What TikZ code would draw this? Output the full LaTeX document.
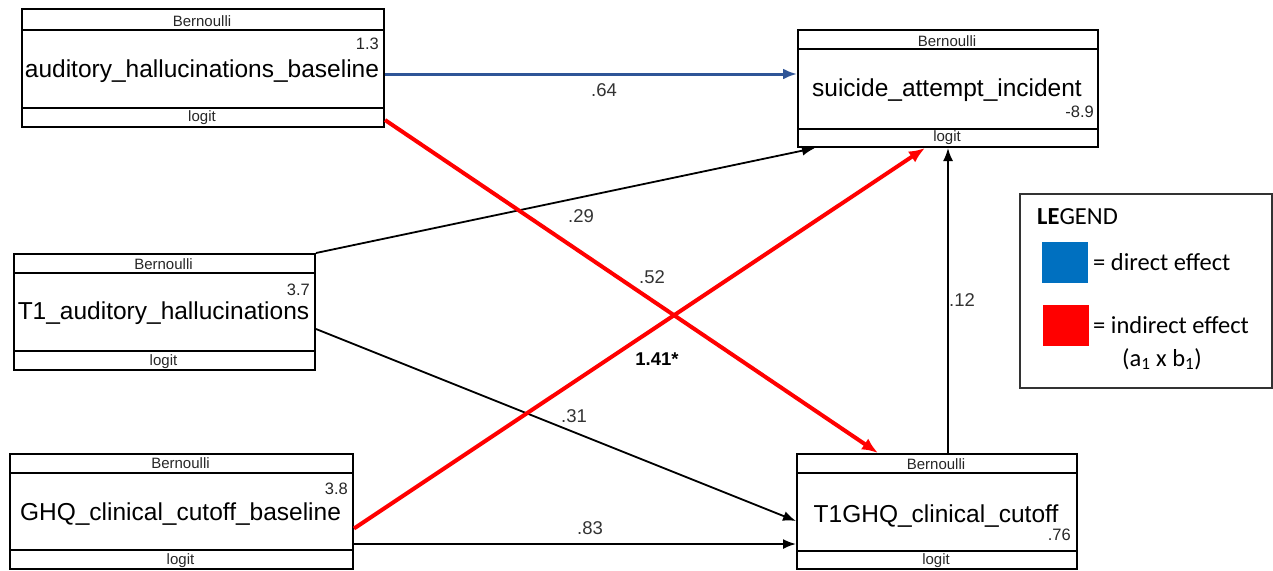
\documentclass[tikz,border=0pt]{standalone}
\usepackage{fontspec}
\setmainfont{Liberation Sans}
\newfontfamily\legfont{Carlito}
\usetikzlibrary{arrows.meta,calc}

\definecolor{dirblue}{HTML}{2F5597}
\definecolor{indred}{HTML}{FF0000}
\definecolor{legblue}{HTML}{0070C0}

\begin{document}
\begin{tikzpicture}[x=1pt,y=-1pt,
  varbox/.style={draw, line width=2pt, rectangle, anchor=north west, inner sep=0pt},
  divider/.style={line width=2pt},
  tagtext/.style={font=\fontsize{15}{15}\selectfont, inner sep=0pt, anchor=base, text=black!85},
  mainlabel/.style={font=\fontsize{24.5}{26}\selectfont, inner sep=0pt, anchor=base},
  numlabel/.style={font=\fontsize{16.5}{17}\selectfont, inner sep=0pt, anchor=base east, text=black!85},
  coef/.style={font=\fontsize{18.5}{19}\selectfont, inner sep=0pt, text=black!80},
  blackpath/.style={line width=1.8pt, -{Latex[length=13pt,width=10pt]}},
  redpath/.style={line width=4pt, draw=indred, -{Latex[length=16pt,width=13pt]}},
  bluepath/.style={line width=3pt, draw=dirblue, -{Latex[length=14pt,width=11pt]}},
  legtext/.style={font=\legfont\fontsize{24.5}{26}\selectfont, inner sep=0pt, anchor=base west},
  swatch/.style={inner sep=0pt, anchor=north west, minimum width=46pt, minimum height=41pt},
]
\useasboundingbox (0,0) rectangle (1273,570);

% ---------- auditory_hallucinations_baseline ----------
\node[varbox, minimum width=362pt, minimum height=118pt] (b1) at (21,8) {};
\draw[divider] ([yshift=-22pt]b1.north west) -- ([yshift=-22pt]b1.north east);
\draw[divider] ([yshift=20pt]b1.south west) -- ([yshift=20pt]b1.south east);
\node[tagtext] (b1top) at (202,27) {Bernoulli};
\node[mainlabel] (b1lab) at (202,77) {auditory\_hallucinations\_baseline};
\node[numlabel] (b1num) at (379,49) {1.3};
\node[tagtext] (b1bot) at (202,121) {logit};

% ---------- suicide_attempt_incident ----------
\node[varbox, minimum width=300pt, minimum height=117pt] (b2) at (797,29) {};
\draw[divider] ([yshift=-20pt]b2.north west) -- ([yshift=-20pt]b2.north east);
\draw[divider] ([yshift=19pt]b2.south west) -- ([yshift=19pt]b2.south east);
\node[tagtext] (b2top) at (947,46) {Bernoulli};
\node[mainlabel] (b2lab) at (947,96) {suicide\_attempt\_incident};
\node[numlabel] (b2num) at (1094,117) {-8.9};
\node[tagtext] (b2bot) at (947,141) {logit};

% ---------- T1_auditory_hallucinations ----------
\node[varbox, minimum width=301pt, minimum height=116pt] (b3) at (13,253) {};
\draw[divider] ([yshift=-20pt]b3.north west) -- ([yshift=-20pt]b3.north east);
\draw[divider] ([yshift=20pt]b3.south west) -- ([yshift=20pt]b3.south east);
\node[tagtext] (b3top) at (163.5,269) {Bernoulli};
\node[mainlabel] (b3lab) at (163.5,319) {T1\_auditory\_hallucinations};
\node[numlabel] (b3num) at (310,295) {3.7};
\node[tagtext] (b3bot) at (163.5,365) {logit};

% ---------- GHQ_clinical_cutoff_baseline ----------
\node[varbox, minimum width=343pt, minimum height=115pt] (b4) at (9,453) {};
\draw[divider] ([yshift=-20pt]b4.north west) -- ([yshift=-20pt]b4.north east);
\draw[divider] ([yshift=20pt]b4.south west) -- ([yshift=20pt]b4.south east);
\node[tagtext] (b4top) at (180.5,468) {Bernoulli};
\node[mainlabel] (b4lab) at (180.5,520) {GHQ\_clinical\_cutoff\_baseline};
\node[numlabel] (b4num) at (348,494) {3.8};
\node[tagtext] (b4bot) at (180.5,564) {logit};

% ---------- T1GHQ_clinical_cutoff ----------
\node[varbox, minimum width=280pt, minimum height=115pt] (b5) at (796,453) {};
\draw[divider] ([yshift=-20pt]b5.north west) -- ([yshift=-20pt]b5.north east);
\draw[divider] ([yshift=19pt]b5.south west) -- ([yshift=19pt]b5.south east);
\node[tagtext] (b5top) at (936,469) {Bernoulli};
\node[mainlabel] (b5lab) at (936,522) {T1GHQ\_clinical\_cutoff};
\node[numlabel] (b5num) at (1071,540) {.76};
\node[tagtext] (b5bot) at (936,564) {logit};

% ---------- paths ----------
% direct effect
\draw[bluepath] ([yshift=-6pt]b1.east) -- ([yshift=14.5pt]b2.west);
% covariate paths
\draw[blackpath] (b3.north east) -- ([xshift=18pt]b2.south west);
\draw[blackpath] ([yshift=-17pt]b3.east) -- ([yshift=-9.5pt]b5.west);
\draw[blackpath] ([yshift=-32.5pt]b4.east) -- ([yshift=-32.5pt]b5.west);
\draw[blackpath] ([xshift=11pt]b5.north) -- (b2.south);
% indirect effect
\draw[redpath] ([yshift=8pt]b1.south east) -- ([xshift=82pt]b5.north west);
\draw[redpath] ([yshift=-17pt]b4.east) -- ([xshift=128pt]b2.south west);

% ---------- coefficients ----------
\node[coef] (c64) at (604,90) {.64};
\node[coef] (c29) at (581,216) {.29};
\node[coef] (c52) at (652,277) {.52};
\node[coef, font=\bfseries\fontsize{18.5}{19}\selectfont, text=black] (c141) at (657,359) {1.41*};
\node[coef] (c31) at (574,416) {.31};
\node[coef] (c83) at (590,528) {.83};
\node[coef] (c12) at (962,300) {.12};

% ---------- legend ----------
\node[draw=black!80, line width=1.5pt, anchor=north west, inner sep=0pt,
      minimum width=252pt, minimum height=194pt] (leg) at (1019,193) {};
\node[legtext] (legtitle) at (1037,224) {\textbf{LE}GEND};
\node[swatch, fill=legblue] (legb) at (1042,242) {};
\node[legtext] (legbtxt) at (1093,270) {= direct effect};
\node[swatch, fill=indred] (legr) at (1043,305) {};
\node[legtext] (legrtxt) at (1093,333) {= indirect effect};
\node[legtext] (legrsub) at (1122,366) {(a\textsubscript{1} x b\textsubscript{1})};
\end{tikzpicture}
\end{document}
